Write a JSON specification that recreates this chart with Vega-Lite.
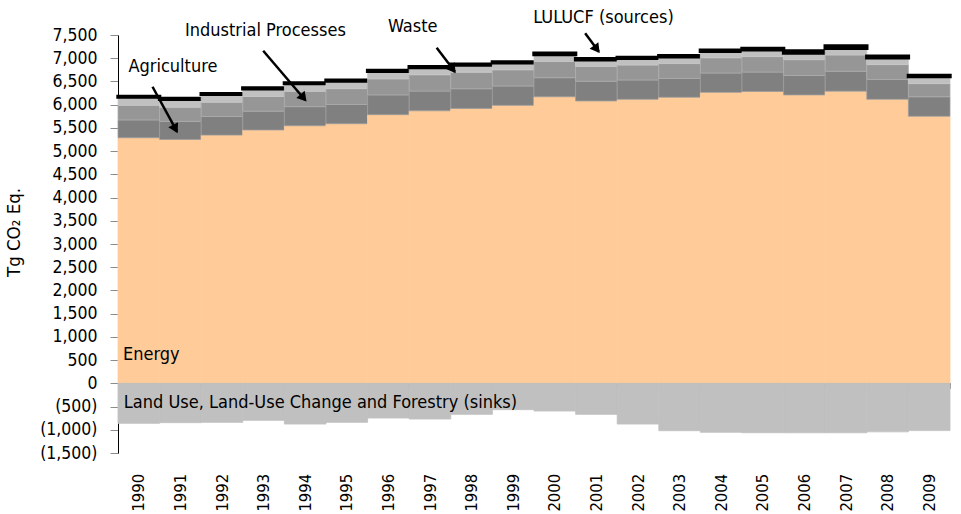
{
  "$schema": "https://vega.github.io/schema/vega-lite/v6.json",
  "width": 832,
  "height": 418,
  "autosize": {"type": "none"},
  "padding": {"left": 118, "top": 35, "right": 11, "bottom": 61},
  "background": "#ffffff",
  "config": {
    "view": {"stroke": null},
    "font": "DejaVu Sans Condensed",
    "axis": {"labelFont": "DejaVu Sans Condensed", "titleFont": "DejaVu Sans Condensed", "grid": false},
    "axisY": {"labelOverlap": false, "labelFlush": false}
  },
  "layer": [
    {
      "data": {
        "values": [
          {"year": 1990, "Energy": 5288, "Agriculture": 383, "Industrial": 316, "Waste": 175, "Sources": 15, "Sinks": -862},
          {"year": 1991, "Energy": 5250, "Agriculture": 390, "Industrial": 306, "Waste": 172, "Sources": 14, "Sinks": -847},
          {"year": 1992, "Energy": 5345, "Agriculture": 400, "Industrial": 308, "Waste": 170, "Sources": 15, "Sinks": -840},
          {"year": 1993, "Energy": 5455, "Agriculture": 405, "Industrial": 315, "Waste": 168, "Sources": 15, "Sinks": -797},
          {"year": 1994, "Energy": 5547, "Agriculture": 410, "Industrial": 330, "Waste": 166, "Sources": 15, "Sinks": -877},
          {"year": 1995, "Energy": 5590, "Agriculture": 415, "Industrial": 340, "Waste": 165, "Sources": 16, "Sinks": -840},
          {"year": 1996, "Energy": 5785, "Agriculture": 425, "Industrial": 345, "Waste": 162, "Sources": 20, "Sinks": -748},
          {"year": 1997, "Energy": 5868, "Agriculture": 424, "Industrial": 352, "Waste": 157, "Sources": 17, "Sinks": -769},
          {"year": 1998, "Energy": 5919, "Agriculture": 424, "Industrial": 355, "Waste": 153, "Sources": 19, "Sinks": -668},
          {"year": 1999, "Energy": 5985, "Agriculture": 416, "Industrial": 350, "Waste": 150, "Sources": 20, "Sinks": -567},
          {"year": 2000, "Energy": 6170, "Agriculture": 410, "Industrial": 350, "Waste": 148, "Sources": 30, "Sinks": -597},
          {"year": 2001, "Energy": 6080, "Agriculture": 425, "Industrial": 318, "Waste": 144, "Sources": 22, "Sinks": -668},
          {"year": 2002, "Energy": 6115, "Agriculture": 416, "Industrial": 322, "Waste": 143, "Sources": 22, "Sinks": -877},
          {"year": 2003, "Energy": 6160, "Agriculture": 405, "Industrial": 320, "Waste": 143, "Sources": 24, "Sinks": -1020},
          {"year": 2004, "Energy": 6265, "Agriculture": 416, "Industrial": 328, "Waste": 142, "Sources": 20, "Sinks": -1055},
          {"year": 2005, "Energy": 6283, "Agriculture": 418, "Industrial": 334, "Waste": 144, "Sources": 29, "Sinks": -1063},
          {"year": 2006, "Energy": 6210, "Agriculture": 420, "Industrial": 339, "Waste": 142, "Sources": 47, "Sinks": -1065},
          {"year": 2007, "Energy": 6291, "Agriculture": 428, "Industrial": 351, "Waste": 144, "Sources": 48, "Sinks": -1064},
          {"year": 2008, "Energy": 6116, "Agriculture": 428, "Industrial": 318, "Waste": 148, "Sources": 35, "Sinks": -1045},
          {"year": 2009, "Energy": 5751, "Agriculture": 419, "Industrial": 283, "Waste": 151, "Sources": 25, "Sinks": -1018}
        ]
      },
      "transform": [
        {"fold": ["Energy", "Agriculture", "Industrial", "Waste", "Sources", "Sinks"], "as": ["sector", "value"]},
        {"window": [{"op": "row_number", "as": "layerIndex"}], "groupby": ["year"]}
      ],
      "mark": {"type": "bar"},
      "encoding": {
        "x": {
          "field": "year",
          "type": "ordinal",
          "scale": {"paddingInner": 0, "paddingOuter": 0},
          "axis": {
            "orient": "bottom",
            "offset": -69.7,
            "title": null,
            "domainColor": "#000000",
            "domainWidth": 1,
            "tickBand": "extent",
            "tickColor": "#8c8c8c",
            "tickSize": 5,
            "labelAngle": -90,
            "labelPadding": 85,
            "labelFontSize": 16.5,
            "labelColor": "#000000",
            "labelOverlap": false
          }
        },
        "y": {
          "field": "value",
          "type": "quantitative",
          "stack": "zero",
          "scale": {"domain": [-1500, 7500], "nice": false, "zero": false},
          "axis": {
            "values": [-1500, -1000, -500, 0, 500, 1000, 1500, 2000, 2500, 3000, 3500, 4000, 4500, 5000, 5500, 6000, 6500, 7000, 7500],
            "labelExpr": "datum.value < 0 ? '(' + format(-datum.value, ',') + ')' : format(datum.value, ',') + '\u2007'",
            "labelOverlap": false,
            "labelFlush": false,
            "title": "Tg CO₂ Eq.",
            "titleFontWeight": "normal",
            "titleFontSize": 18.5,
            "titleColor": "#000000",
            "titleX": -95,
            "titleY": 197,
            "titleAngle": -90,
            "titleAlign": "center",
            "titleBaseline": "bottom",
            "domainColor": "#000000",
            "tickColor": "#8c8c8c",
            "tickSize": 8,
            "labelPadding": 13,
            "labelFontSize": 17.5,
            "labelColor": "#000000"
          }
        },
        "color": {
          "field": "sector",
          "type": "nominal",
          "scale": {
            "domain": ["Energy", "Agriculture", "Industrial", "Waste", "Sources", "Sinks"],
            "range": ["#ffcc99", "#808080", "#969696", "#c0c0c0", "#000000", "#c0c0c0"]
          },
          "legend": null
        },
        "stroke": {
          "field": "sector",
          "type": "nominal",
          "scale": {
            "domain": ["Energy", "Agriculture", "Industrial", "Waste", "Sources", "Sinks"],
            "range": ["#ffcc99", "#9c9c9c", "#acacac", "#c8c8c8", "#000000", "#c0c0c0"]
          },
          "legend": null
        },
        "order": {"field": "layerIndex", "type": "quantitative"},
        "strokeWidth": {"condition": {"test": "datum.sector === 'Sources'", "value": 3.4}, "value": 0.8}
      }
    },
    {
      "layer": [
        {
          "data": {
            "values": [
              {"arrow": "Agriculture", "x1": 1990.33, "y1": 6386, "x2": 1990.92, "y2": 5420},
              {"arrow": "Industrial", "x1": 1992.99, "y1": 7162, "x2": 1994.0, "y2": 6100},
              {"arrow": "Waste", "x1": 1997.16, "y1": 7226, "x2": 1997.6, "y2": 6710},
              {"arrow": "Sources", "x1": 2000.73, "y1": 7537, "x2": 2001.06, "y2": 7140}
            ]
          },
          "mark": {"type": "rule", "color": "#000000", "strokeWidth": 2.5},
          "encoding": {
            "x": {"field": "x1", "type": "quantitative", "scale": {"domain": [1989.5, 2009.5], "nice": false, "zero": false}, "axis": null},
            "x2": {"field": "x2"},
            "y": {"field": "y1", "type": "quantitative", "scale": {"domain": [-1500, 7500], "nice": false, "zero": false}, "axis": null},
            "y2": {"field": "y2"}
          }
        },
        {
          "data": {"values": [{"x": 1990.88, "y": 5477}]},
          "mark": {"type": "point", "shape": "triangle-up", "filled": true, "color": "#000000", "size": 120, "angle": 151.8, "opacity": 1},
          "encoding": {
            "x": {"field": "x", "type": "quantitative", "scale": {"domain": [1989.5, 2009.5], "nice": false, "zero": false}, "axis": null},
            "y": {"field": "y", "type": "quantitative", "scale": {"domain": [-1500, 7500], "nice": false, "zero": false}, "axis": null}
          }
        },
        {
          "data": {"values": [{"x": 1993.96, "y": 6144}]},
          "mark": {"type": "point", "shape": "triangle-up", "filled": true, "color": "#000000", "size": 120, "angle": 139.6, "opacity": 1},
          "encoding": {
            "x": {"field": "x", "type": "quantitative", "scale": {"domain": [1989.5, 2009.5], "nice": false, "zero": false}, "axis": null},
            "y": {"field": "y", "type": "quantitative", "scale": {"domain": [-1500, 7500], "nice": false, "zero": false}, "axis": null}
          }
        },
        {
          "data": {"values": [{"x": 1997.55, "y": 6761}]},
          "mark": {"type": "point", "shape": "triangle-up", "filled": true, "color": "#000000", "size": 120, "angle": 143.4, "opacity": 1},
          "encoding": {
            "x": {"field": "x", "type": "quantitative", "scale": {"domain": [1989.5, 2009.5], "nice": false, "zero": false}, "axis": null},
            "y": {"field": "y", "type": "quantitative", "scale": {"domain": [-1500, 7500], "nice": false, "zero": false}, "axis": null}
          }
        },
        {
          "data": {"values": [{"x": 2001.01, "y": 7192}]},
          "mark": {"type": "point", "shape": "triangle-up", "filled": true, "color": "#000000", "size": 120, "angle": 143.1, "opacity": 1},
          "encoding": {
            "x": {"field": "x", "type": "quantitative", "scale": {"domain": [1989.5, 2009.5], "nice": false, "zero": false}, "axis": null},
            "y": {"field": "y", "type": "quantitative", "scale": {"domain": [-1500, 7500], "nice": false, "zero": false}, "axis": null}
          }
        },
        {
          "data": {
            "values": [
              {"label": "Agriculture", "x": 1989.75, "y": 6817},
              {"label": "Industrial Processes", "x": 1991.11, "y": 7586},
              {"label": "Waste", "x": 1995.99, "y": 7679},
              {"label": "LULUCF (sources)", "x": 1999.48, "y": 7866},
              {"label": "Energy", "x": 1989.62, "y": 603},
              {"label": "Land Use, Land-Use Change and Forestry (sinks)", "x": 1989.64, "y": -416}
            ]
          },
          "mark": {"type": "text", "align": "left", "baseline": "middle", "fontSize": 18, "color": "#000000"},
          "encoding": {
            "x": {"field": "x", "type": "quantitative", "scale": {"domain": [1989.5, 2009.5], "nice": false, "zero": false}, "axis": null},
            "y": {"field": "y", "type": "quantitative", "scale": {"domain": [-1500, 7500], "nice": false, "zero": false}, "axis": null},
            "text": {"field": "label"}
          }
        }
      ]
    }
  ],
  "resolve": {"scale": {"x": "independent", "y": "independent"}}
}
